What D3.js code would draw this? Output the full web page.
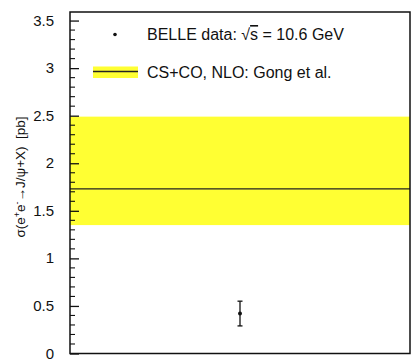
<!DOCTYPE html>
<html>
<head>
<meta charset="utf-8">
<script src="https://cdn.jsdelivr.net/npm/d3@7"></script>
<style>
  html, body { margin: 0; padding: 0; background: #fff; }
  svg { display: block; }
  text { font-family: "Liberation Sans", Arial, Helvetica, sans-serif; fill: #111; white-space: pre; }
</style>
</head>
<body>
<svg id="chart" width="411" height="360"></svg>
<script>
// Measured cross section (pb) and its uncertainty
const dataLabels = ["BELLE data"];
const dataValues = [0.42];
const dataErrors = [0.13];

// Theory prediction: central value with lower/upper band edges (pb)
const theoryCentral = [1.73];
const theoryLow = [1.35];
const theoryHigh = [2.49];

// Y-axis ticks
const majorTicks = [0, 0.5, 1, 1.5, 2, 2.5, 3, 3.5];
const tickLabels = ["0", "0.5", "1", "1.5", "2", "2.5", "3", "3.5"];

const svg = d3.select("#chart");
const frame = { left: 70, right: 410, top: 12, bottom: 353.5 };

const y = d3.scaleLinear().domain([0, 3.59]).range([frame.bottom, frame.top]);
const x = d3.scaleBand().domain(dataLabels).range([frame.left, frame.right]);

// Theory band
svg.append("rect")
  .attr("x", frame.left)
  .attr("width", frame.right - frame.left)
  .attr("y", y(theoryHigh[0]))
  .attr("height", y(theoryLow[0]) - y(theoryHigh[0]))
  .attr("fill", "#ffff33");

// Central theory line
svg.append("line")
  .attr("x1", frame.left).attr("x2", frame.right)
  .attr("y1", y(theoryCentral[0])).attr("y2", y(theoryCentral[0]))
  .attr("stroke", "#222").attr("stroke-width", 1.3);

// Data point with error bar
dataValues.forEach((v, i) => {
  const cx = x(dataLabels[i]) + x.bandwidth() / 2;
  const g = svg.append("g").attr("stroke", "#111").attr("stroke-width", 1.3);
  g.append("line").attr("x1", cx).attr("x2", cx)
    .attr("y1", y(v + dataErrors[i])).attr("y2", y(v - dataErrors[i]));
  [v + dataErrors[i], v - dataErrors[i]].forEach(e => {
    g.append("line").attr("x1", cx - 2.5).attr("x2", cx + 2.5)
      .attr("y1", y(e)).attr("y2", y(e));
  });
  svg.append("circle").attr("cx", cx).attr("cy", y(v)).attr("r", 2).attr("fill", "#111");
});

// Y axis with minor ticks
const yAxis = d3.axisLeft(y)
  .tickValues(majorTicks)
  .tickSize(-9)
  .tickPadding(16)
  .tickFormat((d, i) => tickLabels[i]);
const ag = svg.append("g").attr("transform", `translate(${frame.left},0)`).call(yAxis);
ag.select(".domain").remove();
ag.selectAll(".tick line").attr("stroke", "#111").attr("stroke-width", 1.3);
ag.selectAll(".tick text")
  .style("font-family", '"Liberation Sans", Arial, sans-serif')
  .style("font-size", "15px").attr("fill", "#111").attr("dy", "0.3em");

const minor = d3.range(0, 3.59, 0.1).filter(v => Math.abs(v * 2 - Math.round(v * 2)) > 1e-6);
svg.append("g").selectAll("line").data(minor).join("line")
  .attr("x1", frame.left).attr("x2", frame.left + 5)
  .attr("y1", d => y(d)).attr("y2", d => y(d))
  .attr("stroke", "#111").attr("stroke-width", 1.1);

// Frame
svg.append("rect")
  .attr("x", frame.left).attr("y", frame.top)
  .attr("width", frame.right - frame.left).attr("height", frame.bottom - frame.top)
  .attr("fill", "none").attr("stroke", "#111").attr("stroke-width", 1.5);

// Y-axis title
const title = svg.append("text")
  .attr("transform", "translate(25,177) rotate(-90)")
  .attr("text-anchor", "middle")
  .style("font-size", "13.5px");
title.append("tspan").text("σ(e");
title.append("tspan").attr("baseline-shift", "super").style("font-size", "9px").text("+");
title.append("tspan").text("e");
title.append("tspan").attr("baseline-shift", "super").style("font-size", "9px").text("-");
title.append("tspan").text("→J/ψ+X)  [pb]");

// Legend
svg.append("circle").attr("cx", 115).attr("cy", 34.5).attr("r", 1.8).attr("fill", "#111");
const l1 = svg.append("text").attr("x", 147).attr("y", 40).style("font-size", "16px");
l1.append("tspan").text("BELLE data: √");
l1.append("tspan").style("text-decoration", "overline").text("s");
l1.append("tspan").text(" = 10.6 GeV");

svg.append("rect").attr("x", 93).attr("y", 66.5).attr("width", 45).attr("height", 11.5).attr("fill", "#ffff33");
svg.append("line").attr("x1", 93).attr("x2", 138).attr("y1", 71.5).attr("y2", 71.5)
  .attr("stroke", "#222").attr("stroke-width", 1.3);
svg.append("text").attr("x", 147).attr("y", 78).style("font-size", "16px")
  .text("CS+CO, NLO: Gong et al.");
</script>
</body>
</html>
